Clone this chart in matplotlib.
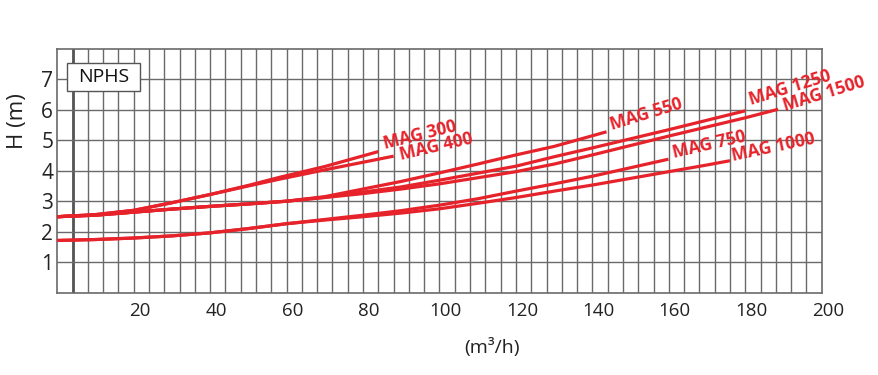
import matplotlib
matplotlib.use('Agg')
import matplotlib.pyplot as plt
from matplotlib.patches import Rectangle
import matplotlib.transforms as mtransforms

plt.rcParams['font.family'] = ['Open Sans', 'DejaVu Sans']

# Q (m3/h) -> NPSH (m)
mag300_x = [0, 10, 20, 30, 40, 50, 58, 70, 80, 84]
mag300_y = [2.49, 2.56, 2.70, 2.95, 3.22, 3.52, 3.78, 4.14, 4.49, 4.63]
mag400_x = [0, 10, 20, 30, 40, 50, 58, 70, 80, 88]
mag400_y = [2.49, 2.56, 2.70, 2.95, 3.22, 3.50, 3.72, 4.03, 4.28, 4.48]
mag550_x = [0, 10, 20, 30, 40, 50, 60, 70, 80, 90, 100, 110, 120, 130, 143.7]
mag550_y = [2.49, 2.54, 2.64, 2.74, 2.83, 2.91, 3.00, 3.15, 3.40, 3.65, 3.93, 4.22, 4.52, 4.80, 5.28]
mag1250_x = [0, 10, 20, 30, 40, 50, 60, 70, 80, 90, 100, 110, 120, 130, 140, 150, 160, 170, 180]
mag1250_y = [2.49, 2.54, 2.64, 2.74, 2.83, 2.91, 3.00, 3.13, 3.30, 3.47, 3.69, 3.92, 4.15, 4.46, 4.75, 5.05, 5.35, 5.66, 5.97]
mag1500_x = [0, 10, 20, 30, 40, 50, 60, 70, 80, 90, 100, 110, 120, 130, 140, 150, 160, 170, 180, 188.6]
mag1500_y = [2.49, 2.54, 2.64, 2.74, 2.83, 2.91, 3.00, 3.12, 3.25, 3.40, 3.57, 3.77, 3.97, 4.22, 4.52, 4.83, 5.14, 5.44, 5.74, 6.02]
mag750_x = [0, 10, 20, 30, 40, 50, 60, 70, 80, 90, 100, 110, 120, 130, 140, 150, 159.9]
mag750_y = [1.71, 1.74, 1.79, 1.86, 1.96, 2.10, 2.26, 2.40, 2.54, 2.69, 2.87, 3.08, 3.33, 3.57, 3.82, 4.10, 4.38]
mag1000_x = [0, 10, 20, 30, 40, 50, 60, 70, 80, 90, 100, 110, 120, 130, 140, 150, 160, 170, 176]
mag1000_y = [1.71, 1.74, 1.79, 1.86, 1.96, 2.10, 2.26, 2.38, 2.49, 2.61, 2.75, 2.93, 3.12, 3.33, 3.53, 3.75, 3.97, 4.19, 4.33]

curves = {
    'MAG 300': (mag300_x, mag300_y),
    'MAG 400': (mag400_x, mag400_y),
    'MAG 550': (mag550_x, mag550_y),
    'MAG 1250': (mag1250_x, mag1250_y),
    'MAG 1500': (mag1500_x, mag1500_y),
    'MAG 750': (mag750_x, mag750_y),
    'MAG 1000': (mag1000_x, mag1000_y),
}
# obrot i przesuniecie (pt) podpisow
label_rot = {'MAG 300': 14, 'MAG 400': 13, 'MAG 550': 17, 'MAG 1250': 17,
             'MAG 1500': 17, 'MAG 750': 13, 'MAG 1000': 12}
label_off = {'MAG 300': (5, 2), 'MAG 400': (5, -2.5), 'MAG 550': (4, 1.5),
             'MAG 1250': (4, 4.5), 'MAG 1500': (5, -1), 'MAG 750': (4, 0.5),
             'MAG 1000': (2, 0)}

x_ticks = [20, 40, 60, 80, 100, 120, 140, 160, 180, 200]
y_ticks = [1, 2, 3, 4, 5, 6, 7]

red = '#e6232b'
grid_col = '#6a6a6a'

fig = plt.figure(figsize=(8.79, 3.75), dpi=100)
ax = fig.add_axes([0.0652, 0.22, 0.8696, 0.6493])
ax.set_xlim(0, 200)
ax.set_ylim(0, 8)

# siatka
for gx in range(4, 200, 4):
    ax.axvline(gx, color=grid_col, lw=1.0, zorder=1)
ax.axvline(4, color='#555555', lw=2.0, zorder=1)
for gy in y_ticks:
    ax.axhline(gy, color=grid_col, lw=1.0, zorder=1)
for s in ax.spines.values():
    s.set_color(grid_col)
    s.set_linewidth(1.2)

for name, (xs, ys) in curves.items():
    ax.plot(xs, ys, color=red, lw=2.3, solid_capstyle='butt', zorder=3)
    ax.annotate(name, xy=(xs[-1], ys[-1]), xytext=label_off[name], textcoords='offset points',
                rotation=label_rot[name], rotation_mode='anchor', ha='left', va='baseline',
                color=red, fontsize=12.5, fontweight='bold', zorder=4)

# NPHS
ax.add_patch(Rectangle((2.6, 6.63), 19.1, 0.91, facecolor='white', edgecolor='#555555', lw=1.0, zorder=2))
ax.text(12.15, 7.08, 'NPHS', ha='center', va='center', fontsize=14, color='#111111', zorder=3)

ax.set_xticks(x_ticks)
ax.set_yticks(y_ticks)
ax.tick_params(axis='both', length=0, colors='#222222')
ax.tick_params(axis='x', labelsize=13.5, pad=7)
ax.tick_params(axis='y', labelsize=15, pad=3)
offset = mtransforms.ScaledTranslation(0.06, 0, fig.dpi_scale_trans)
for lab in ax.get_xticklabels():
    lab.set_transform(lab.get_transform() + offset)

fig.text(492 / 879, 1 - 348 / 375, '(m³/h)', ha='center', va='center', fontsize=14, color='#222222')
fig.text(17 / 879, 1 - 121 / 375, 'H (m)', ha='center', va='center', rotation=90, fontsize=16, color='#222222')

fig.savefig('out.png', dpi=100)
